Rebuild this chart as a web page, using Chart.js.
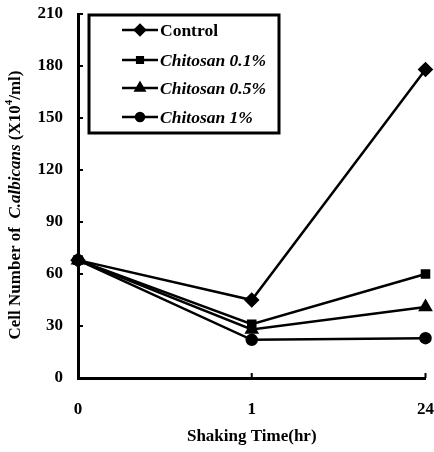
<!DOCTYPE html>
<html>
<head>
<meta charset="utf-8">
<script src="https://cdn.jsdelivr.net/npm/chart.js@4"></script>
<style>
  html, body { margin: 0; padding: 0; background: #fff; }
  #wrap { width: 434px; height: 452px; }
</style>
</head>
<body>
<div id="wrap"><canvas id="cellChart" width="434" height="452"></canvas></div>
<script>
// data
const hours = ['0', '1', '24'];
const seriesNames = ['Control', 'Chitosan 0.1%', 'Chitosan 0.5%', 'Chitosan 1%'];
const control = [68, 45, 178];
const chitosan01 = [68, 31, 60];
const chitosan05 = [68, 28, 41];
const chitosan1 = [68, 22, 23];
const yTicks = [0, 30, 60, 90, 120, 150, 180, 210];

const serif = '"Liberation Serif", "DejaVu Serif", serif';

function makeSet(label, values, style, radius) {
    return {
        label: label,
        data: values,
        borderColor: '#000',
        borderWidth: 2.5,
        backgroundColor: '#000',
        pointStyle: style,
        pointRadius: radius,
        pointBackgroundColor: '#000',
        pointBorderColor: '#000',
        tension: 0,
        fill: false
    };
}

// legend box, inward tick marks and y title drawn by hand
const extras = {
    id: 'extras',
    afterDraw(chart) {
        const ctx = chart.ctx;
        const xs = chart.scales.x;
        const ys = chart.scales.y;
        ctx.save();
        ctx.strokeStyle = '#000';
        ctx.lineWidth = 2;
        // inward ticks
        ctx.beginPath();
        yTicks.forEach(v => {
            const py = ys.getPixelForValue(v);
            ctx.moveTo(xs.left, py);
            ctx.lineTo(xs.left + 5, py);
        });
        hours.forEach((h, i) => {
            if (i === 0) return;
            const px = xs.getPixelForValue(i);
            ctx.moveTo(px, ys.bottom);
            ctx.lineTo(px, ys.bottom - 5);
        });
        ctx.stroke();

        // legend
        ctx.lineWidth = 3;
        ctx.strokeRect(89, 15, 190, 118);
        const rowY = [30, 60, 88, 117];
        chart.data.datasets.forEach((ds, i) => {
            const y = rowY[i];
            ctx.lineWidth = 2.5;
            ctx.beginPath();
            ctx.moveTo(122, y);
            ctx.lineTo(158, y);
            ctx.stroke();
            Chart.helpers.drawPoint(ctx, {
                pointStyle: ds.pointStyle,
                radius: ds.pointRadius - 1,
                rotation: 0,
                borderWidth: 1
            }, 140, y);
            ctx.fillStyle = '#000';
            ctx.font = (ds.label.indexOf('Chitosan') === 0 ? 'italic ' : '') + 'bold 17.5px ' + serif;
            ctx.textBaseline = 'middle';
            ctx.textAlign = 'left';
            ctx.fillText(ds.label, 160, y + 1);
        });

        // y axis title with italic species name and superscript
        ctx.translate(16, 205);
        ctx.rotate(-Math.PI / 2);
        ctx.textBaseline = 'middle';
        ctx.textAlign = 'left';
        const parts = [
            ['Cell Number of  ', 'bold 17px ', 0],
            ['C.albicans', 'italic bold 17px ', 0],
            [' (X10', 'bold 17px ', 0],
            ['4', 'bold 11px ', -7],
            ['/ml)', 'bold 17px ', 0]
        ];
        let total = 0;
        parts.forEach(p => { ctx.font = p[1] + serif; total += ctx.measureText(p[0]).width; });
        let x = -total / 2;
        parts.forEach(p => {
            ctx.font = p[1] + serif;
            ctx.fillText(p[0], x, p[2]);
            x += ctx.measureText(p[0]).width;
        });
        ctx.restore();
    }
};

new Chart(document.getElementById('cellChart'), {
    type: 'line',
    data: {
        labels: hours,
        datasets: [
            makeSet(seriesNames[0], control, 'rectRot', 6),
            makeSet(seriesNames[1], chitosan01, 'rect', 5),
            makeSet(seriesNames[2], chitosan05, 'triangle', 6),
            makeSet(seriesNames[3], chitosan1, 'circle', 5)
        ]
    },
    options: {
        responsive: false,
        animation: false,
        layout: { padding: { top: 14, right: 7, left: 0, bottom: 0 } },
        scales: {
            x: {
                type: 'category',
                offset: false,
                grid: { display: false, drawTicks: false },
                border: { display: true, color: '#000', width: 3 },
                ticks: {
                    color: '#000',
                    padding: 21,
                    maxRotation: 0,
                    font: { family: serif, size: 17, weight: 'bold' }
                },
                title: {
                    display: true,
                    text: 'Shaking Time(hr)',
                    color: '#000',
                    font: { family: serif, size: 17, weight: 'bold' },
                    padding: { top: 0, bottom: 5 }
                },
                afterFit(scale) {
                    scale.height = 74;
                    scale.paddingLeft = 0;
                    scale.paddingRight = 0;
                }
            },
            y: {
                min: 0,
                max: 210,
                afterBuildTicks(scale) { scale.ticks = yTicks.map(v => ({ value: v })); },
                grid: { display: false, drawTicks: false },
                border: { display: true, color: '#000', width: 3 },
                ticks: {
                    color: '#000',
                    padding: 15,
                    font: { family: serif, size: 17, weight: 'bold' }
                },
                afterFit(scale) {
                    scale.width = 78;
                    scale.paddingTop = 0;
                    scale.paddingBottom = 0;
                }
            }
        },
        plugins: {
            legend: { display: false },
            tooltip: { enabled: false }
        }
    },
    plugins: [extras]
});
</script>
</body>
</html>
